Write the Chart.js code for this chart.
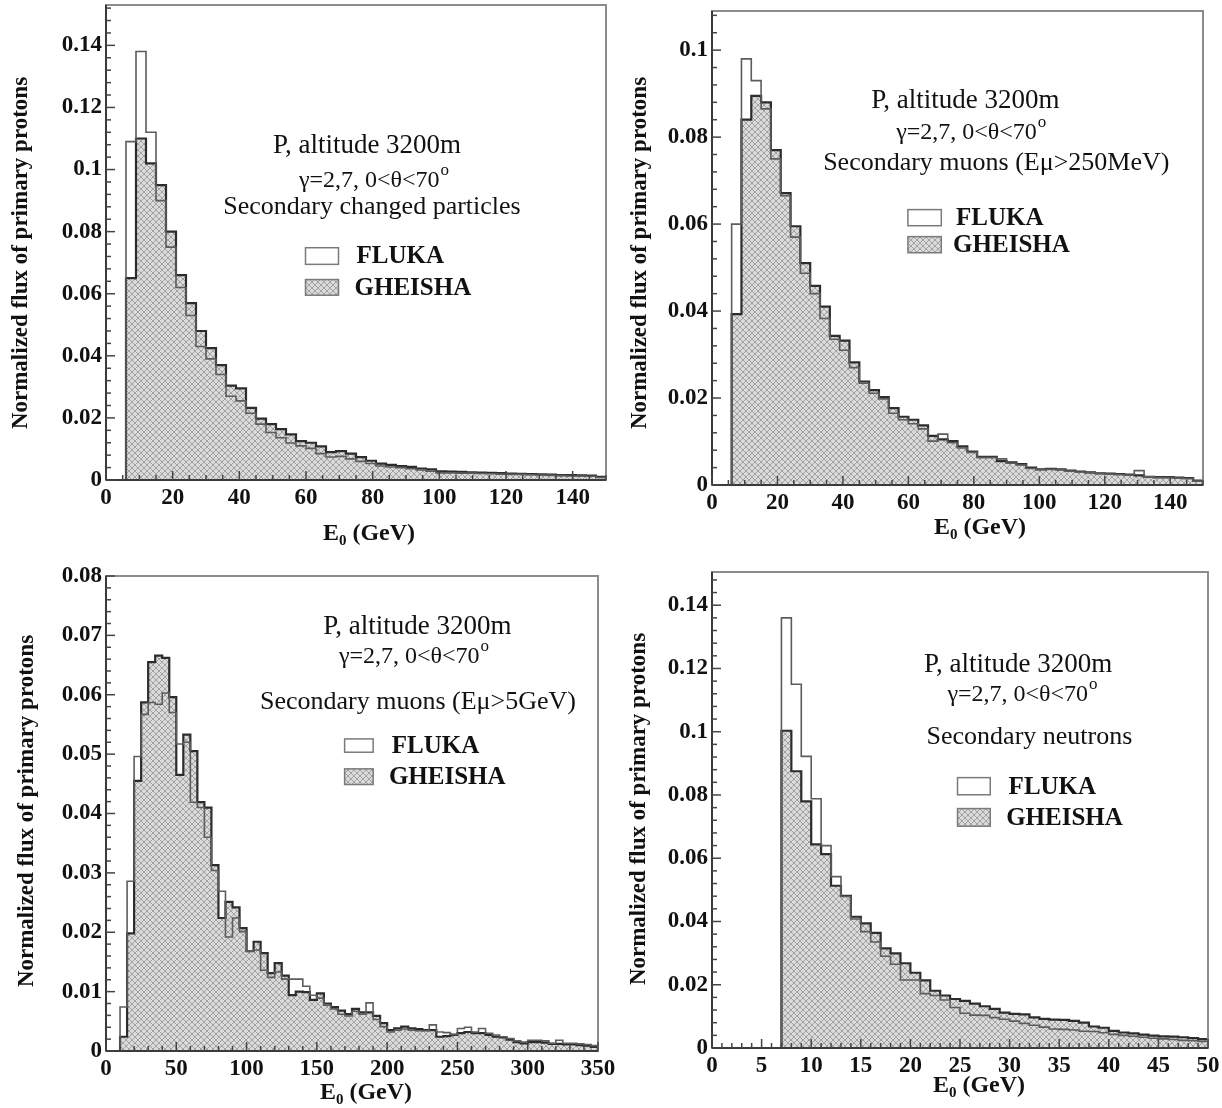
<!DOCTYPE html>
<html>
<head>
<meta charset="utf-8">
<script src="https://cdn.jsdelivr.net/npm/chart.js@4.4.1/dist/chart.umd.min.js"></script>
<style>
html,body{margin:0;padding:0;background:#fff;}
#wrap{position:relative;width:1222px;height:1108px;overflow:hidden;background:#fff;}
canvas{position:absolute;}
</style>
</head>
<body>
<div id="wrap">
<canvas id="c1" width="620" height="556" style="left:0;top:0"></canvas>
<canvas id="c2" width="611" height="556" style="left:611px;top:0"></canvas>
<canvas id="c3" width="620" height="554" style="left:0;top:554px"></canvas>
<canvas id="c4" width="611" height="554" style="left:611px;top:554px"></canvas>
</div>
<script>
// ---------------- DATA ----------------
// Panel 1: secondary charged particles, 3 GeV bins from 0 to 150
const p1Fluka = [0, 0, 0.109, 0.138, 0.112, 0.090, 0.075, 0.062, 0.053, 0.043,
  0.039, 0.034, 0.027, 0.0255, 0.0215, 0.018, 0.0153, 0.0136, 0.0119, 0.011,
  0.0102, 0.0085, 0.0074, 0.0076, 0.0068, 0.006, 0.0053, 0.0045, 0.0042, 0.004,
  0.0036, 0.0032, 0.0028, 0.0023, 0.0023, 0.0022, 0.0022, 0.0021, 0.0020, 0.0019,
  0.0018, 0.0018, 0.0017, 0.0016, 0.0015, 0.0014, 0.0013, 0.0013, 0.0012, 0.0008];
const p1Gheisha = [0, 0, 0.065, 0.110, 0.102, 0.095, 0.080, 0.066, 0.057, 0.048,
  0.0425, 0.037, 0.0304, 0.0295, 0.0232, 0.0198, 0.018, 0.0164, 0.0147, 0.0125,
  0.012, 0.0108, 0.009, 0.0093, 0.0085, 0.0074, 0.0062, 0.0053, 0.0049, 0.0045,
  0.0042, 0.0037, 0.0034, 0.0028, 0.0027, 0.0026, 0.0025, 0.0024, 0.0023, 0.0022,
  0.0021, 0.0020, 0.0019, 0.0018, 0.0017, 0.0016, 0.0016, 0.0015, 0.0014, 0.0010];
const p1XTicks = [0, 20, 40, 60, 80, 100, 120, 140];
const p1YTicks = [0, 0.02, 0.04, 0.06, 0.08, 0.1, 0.12, 0.14];
const p1Notes = ['P, altitude 3200m', 'γ=2,7, 0<θ<70', 'Secondary changed particles'];

// Panel 2: secondary muons (Eμ>250MeV), 3 GeV bins from 0 to 150
const p2Fluka = [0, 0, 0.060, 0.098, 0.093, 0.0865, 0.075, 0.0665, 0.057, 0.0487,
  0.044, 0.0383, 0.0335, 0.031, 0.027, 0.0234, 0.0211, 0.0198, 0.0165, 0.015,
  0.0141, 0.0129, 0.0101, 0.0117, 0.0097, 0.0085, 0.0075, 0.0063, 0.0063, 0.006,
  0.005, 0.0046, 0.0038, 0.0036, 0.0036, 0.0035, 0.0032, 0.0030, 0.0028, 0.0026,
  0.0025, 0.0024, 0.0023, 0.0033, 0.0019, 0.0017, 0.0017, 0.0016, 0.0015, 0.0009];
const p2Gheisha = [0, 0, 0.0393, 0.084, 0.0895, 0.088, 0.077, 0.0671, 0.0595, 0.051,
  0.0458, 0.041, 0.0343, 0.0332, 0.0282, 0.0238, 0.0218, 0.0202, 0.0177, 0.0157,
  0.015, 0.0137, 0.0113, 0.0105, 0.0101, 0.0089, 0.0077, 0.0065, 0.0065, 0.0055,
  0.0052, 0.0048, 0.004, 0.0036, 0.0037, 0.0036, 0.0033, 0.0031, 0.0029, 0.0027,
  0.0026, 0.0025, 0.0024, 0.0022, 0.0019, 0.0018, 0.0018, 0.0017, 0.0016, 0.0010];
const p2XTicks = [0, 20, 40, 60, 80, 100, 120, 140];
const p2YTicks = [0, 0.02, 0.04, 0.06, 0.08, 0.1];
const p2Notes = ['P, altitude 3200m', 'γ=2,7, 0<θ<70', 'Secondary muons (Eμ>250MeV)'];

// Panel 3: secondary muons (Eμ>5GeV), 5 GeV bins from 0 to 350
const p3Fluka = [0, 0, 0.0074, 0.0286, 0.0496, 0.0567, 0.0587, 0.0584, 0.0603, 0.057,
  0.0517, 0.052, 0.0419, 0.041, 0.036, 0.0304, 0.0269, 0.0192, 0.0224, 0.0201,
  0.0168, 0.017, 0.0136, 0.0124, 0.0133, 0.0121, 0.0121, 0.0121, 0.0109, 0.0094,
  0.0089, 0.0077, 0.0071, 0.0062, 0.0059, 0.0067, 0.0062, 0.0081, 0.0053, 0.0041,
  0.0032, 0.0035, 0.0037, 0.0035, 0.0034, 0.0034, 0.0044, 0.0032, 0.0031, 0.0028,
  0.0038, 0.004, 0.0032, 0.0038, 0.003, 0.0027, 0.0024, 0.0021, 0.0017, 0.0015,
  0.0018, 0.0018, 0.0017, 0.0013, 0.0018, 0.0013, 0.0013, 0.0012, 0.0011, 0.0009];
const p3Gheisha = [0, 0, 0.0024, 0.0198, 0.0455, 0.0587, 0.0655, 0.0666, 0.0662, 0.0596,
  0.0465, 0.0533, 0.0505, 0.0419, 0.041, 0.0313, 0.0224, 0.0251, 0.0242, 0.0207,
  0.0168, 0.0184, 0.0165, 0.0131, 0.0148, 0.0127, 0.0094, 0.010, 0.0099, 0.0086,
  0.0097, 0.008, 0.0074, 0.0068, 0.0062, 0.0071, 0.0065, 0.0065, 0.0059, 0.0047,
  0.0035, 0.0038, 0.0041, 0.0038, 0.0037, 0.0035, 0.0035, 0.0024, 0.0025, 0.0027,
  0.003, 0.0032, 0.003, 0.003, 0.0027, 0.0024, 0.0023, 0.0019, 0.0015, 0.0013,
  0.0015, 0.0015, 0.0014, 0.0012, 0.0012, 0.0011, 0.0011, 0.001, 0.0009, 0.0007];
const p3XTicks = [0, 50, 100, 150, 200, 250, 300, 350];
const p3YTicks = [0, 0.01, 0.02, 0.03, 0.04, 0.05, 0.06, 0.07, 0.08];
const p3Notes = ['P, altitude 3200m', 'γ=2,7, 0<θ<70', 'Secondary muons (Eμ>5GeV)'];

// Panel 4: secondary neutrons, 1 GeV bins from 0 to 50
const p4Fluka = [0, 0, 0, 0, 0, 0, 0, 0.136, 0.115, 0.0922,
  0.0788, 0.064, 0.0542, 0.0479, 0.0408, 0.0368, 0.0335, 0.029, 0.0265, 0.0215,
  0.0215, 0.0172, 0.0166, 0.0152, 0.0128, 0.011, 0.0104, 0.0103, 0.0096, 0.0091,
  0.0085, 0.0078, 0.0072, 0.0066, 0.006, 0.0059, 0.0057, 0.0053, 0.0052, 0.0048,
  0.0043, 0.004, 0.0037, 0.0034, 0.0031, 0.0029, 0.0027, 0.0024, 0.0023, 0.0021];
const p4Gheisha = [0, 0, 0, 0, 0, 0, 0, 0.1003, 0.0875, 0.078,
  0.0644, 0.0613, 0.0513, 0.0481, 0.0415, 0.0394, 0.0364, 0.0315, 0.0299, 0.0268,
  0.0238, 0.0214, 0.0181, 0.0166, 0.0155, 0.0149, 0.014, 0.0132, 0.0124, 0.0112,
  0.0108, 0.0106, 0.0097, 0.0092, 0.009, 0.0089, 0.0086, 0.008, 0.0068, 0.0064,
  0.0054, 0.0049, 0.0046, 0.0042, 0.0039, 0.0037, 0.0036, 0.0034, 0.0031, 0.0028];
const p4XTicks = [0, 5, 10, 15, 20, 25, 30, 35, 40, 45, 50];
const p4YTicks = [0, 0.02, 0.04, 0.06, 0.08, 0.1, 0.12, 0.14];
const p4Notes = ['P, altitude 3200m', 'γ=2,7, 0<θ<70', 'Secondary neutrons'];

const seriesNames = ['FLUKA', 'GHEISHA'];
const yTitleText = 'Normalized flux of primary protons';

// ---------------- STYLE / LAYOUT ----------------
const SERIF = "'Liberation Serif','DejaVu Serif',serif";
const noteFonts = ['27px', '24px', '26px'];

function makeHatch() {
  const c = document.createElement('canvas');
  c.width = 6; c.height = 6;
  const g = c.getContext('2d');
  g.fillStyle = '#dadada'; g.fillRect(0, 0, 6, 6);
  g.fillStyle = '#a2a2a2';
  for (let i = 0; i < 6; i++) { g.fillRect(i, i, 1, 1); g.fillRect(i, 5 - i, 1, 1); }
  return g.createPattern(c, 'repeat');
}

function histPoints(start, width, vals) {
  const pts = vals.map((v, i) => ({ x: start + i * width, y: v }));
  pts.push({ x: start + vals.length * width, y: vals[vals.length - 1] });
  return pts;
}

const deco = {
  id: 'deco',
  afterDraw(chart, args, o) {
    const { ctx, chartArea: a, scales: { x, y } } = chart;
    const w = a.right - a.left, h = a.bottom - a.top;
    const ln = (x1, y1, x2, y2) => { ctx.beginPath(); ctx.moveTo(x1, y1); ctx.lineTo(x2, y2); ctx.stroke(); };
    ctx.save();
    // frame
    ctx.strokeStyle = '#8c8c8c'; ctx.lineWidth = 2;
    ctx.strokeRect(a.left, a.top, w, h);
    ctx.strokeStyle = '#3a3a3a'; ctx.lineWidth = 2;
    ln(a.left, a.top, a.left, a.bottom);
    ln(a.left, a.bottom, a.right, a.bottom);
    // inner ticks
    ctx.lineWidth = 1.5; ctx.strokeStyle = '#444';
    const nx = Math.round(x.max / o.xMinor);
    for (let k = 0; k <= nx; k++) {
      const v = k * o.xMinor; const r = v / o.xMajor;
      const major = Math.abs(r - Math.round(r)) < 1e-6;
      const px = x.getPixelForValue(v);
      ln(px, a.bottom, px, a.bottom - (major ? 9 : 5));
    }
    const ny = Math.floor(y.max / o.yMinor + 1e-6);
    for (let k = 0; k <= ny; k++) {
      const v = k * o.yMinor; const r = v / o.yMajor;
      const major = Math.abs(r - Math.round(r)) < 1e-6;
      const py = y.getPixelForValue(v);
      ln(a.left, py, a.left + (major ? 9 : 5), py);
    }
    ctx.fillStyle = '#111';
    // annotation lines
    ctx.textBaseline = 'middle';
    o.notes.forEach((t, i) => {
      const cx = a.left + o.notePos[i][0] * w, cy = a.top + o.notePos[i][1] * h;
      ctx.font = noteFonts[i] + ' ' + SERIF;
      if (i === 1) {
        const mw = ctx.measureText(t).width;
        ctx.font = '17px ' + SERIF;
        const sw = ctx.measureText('o').width;
        const x0 = cx - (mw + sw) / 2;
        ctx.textAlign = 'left';
        ctx.font = noteFonts[i] + ' ' + SERIF;
        ctx.fillText(t, x0, cy);
        ctx.font = '17px ' + SERIF;
        ctx.fillText('o', x0 + mw + 1, cy - 10);
      } else {
        ctx.textAlign = 'center';
        ctx.fillText(t, cx, cy);
      }
    });
    // legend
    const L = o.legend;
    const bx0 = a.left + L.box[0] * w, bx1 = a.left + L.box[1] * w;
    L.rows.forEach((r, i) => {
      const by0 = a.top + r[0] * h, by1 = a.top + r[1] * h;
      ctx.fillStyle = i === 1 ? chart.$hatch : '#fff';
      ctx.fillRect(bx0, by0, bx1 - bx0, by1 - by0);
      ctx.strokeStyle = '#7a7a7a'; ctx.lineWidth = 1.5;
      ctx.strokeRect(bx0, by0, bx1 - bx0, by1 - by0);
      ctx.fillStyle = '#111';
      ctx.font = 'bold 25px ' + SERIF;
      ctx.textAlign = 'left';
      ctx.fillText(seriesNames[i], a.left + L.text[i] * w, (by0 + by1) / 2 + 1);
    });
    // y title
    ctx.save();
    ctx.translate(o.yTitle[0], o.yTitle[1]);
    ctx.rotate(-Math.PI / 2);
    ctx.font = 'bold 23px ' + SERIF;
    ctx.textAlign = 'center';
    ctx.fillStyle = '#111';
    ctx.fillText(yTitleText, 0, 0);
    ctx.restore();
    // x title: E0 (GeV)
    ctx.textAlign = 'left';
    ctx.font = 'bold 24px ' + SERIF;
    const wE = ctx.measureText('E').width;
    const wR = ctx.measureText(' (GeV)').width;
    ctx.font = 'bold 15px ' + SERIF;
    const wS = ctx.measureText('0').width;
    const tx = o.xTitle[0] - (wE + wS + wR) / 2; const ty = o.xTitle[1];
    ctx.font = 'bold 24px ' + SERIF;
    ctx.fillText('E', tx, ty);
    ctx.font = 'bold 15px ' + SERIF;
    ctx.fillText('0', tx + wE, ty + 7);
    ctx.font = 'bold 24px ' + SERIF;
    ctx.fillText(' (GeV)', tx + wE + wS, ty);
    ctx.restore();
  }
};

const panels = [
  { id: 'c1', start: 0, width: 3, fluka: p1Fluka, gheisha: p1Gheisha, xMax: 150, yMax: 0.153,
    xTicks: p1XTicks, yTicks: p1YTicks, xMajor: 20, xMinor: 5, yMajor: 0.02, yMinor: 0.004,
    area: { left: 106, right: 606, top: 5, bottom: 480 }, W: 620, H: 556,
    yTitle: [21, 253], xTitle: [369, 534], notes: p1Notes,
    notePos: [[0.522, 0.296], [0.535, 0.370], [0.532, 0.426]],
    legend: { box: [0.399, 0.465], rows: [[0.511, 0.546], [0.578, 0.611]], text: [0.501, 0.497] } },
  { id: 'c2', start: 0, width: 3, fluka: p2Fluka, gheisha: p2Gheisha, xMax: 150, yMax: 0.109,
    xTicks: p2XTicks, yTicks: p2YTicks, xMajor: 20, xMinor: 5, yMajor: 0.02, yMinor: 0.004,
    area: { left: 101, right: 592, top: 11, bottom: 485 }, W: 611, H: 556,
    yTitle: [29, 253], xTitle: [369, 528], notes: p2Notes,
    notePos: [[0.516, 0.189], [0.527, 0.256], [0.579, 0.320]],
    legend: { box: [0.399, 0.467], rows: [[0.419, 0.453], [0.476, 0.510]], text: [0.497, 0.491] } },
  { id: 'c3', start: 0, width: 5, fluka: p3Fluka, gheisha: p3Gheisha, xMax: 350, yMax: 0.08,
    xTicks: p3XTicks, yTicks: p3YTicks, xMajor: 50, xMinor: 10, yMajor: 0.01, yMinor: 0.002,
    area: { left: 106, right: 598, top: 22, bottom: 497 }, W: 620, H: 554,
    yTitle: [27, 257], xTitle: [366, 539], notes: p3Notes,
    notePos: [[0.633, 0.107], [0.625, 0.170], [0.634, 0.266]],
    legend: { box: [0.485, 0.543], rows: [[0.343, 0.371], [0.406, 0.439]], text: [0.581, 0.575] } },
  { id: 'c4', start: 0, width: 1, fluka: p4Fluka, gheisha: p4Gheisha, xMax: 50, yMax: 0.1505,
    xTicks: p4XTicks, yTicks: p4YTicks, xMajor: 5, xMinor: 1, yMajor: 0.02, yMinor: 0.004,
    area: { left: 101, right: 597, top: 18, bottom: 494 }, W: 611, H: 554,
    yTitle: [28, 255], xTitle: [368, 532], notes: p4Notes,
    notePos: [[0.617, 0.195], [0.625, 0.258], [0.640, 0.348]],
    legend: { box: [0.495, 0.561], rows: [[0.432, 0.468], [0.497, 0.534]], text: [0.598, 0.593] } }
];

const tickFont = { family: SERIF, size: 23, weight: 'bold' };

panels.forEach(p => {
  const canvas = document.getElementById(p.id);
  const hatch = makeHatch();
  const chart = new Chart(canvas, {
    type: 'line',
    data: {
      datasets: [
        { label: seriesNames[0], data: histPoints(p.start, p.width, p.fluka), stepped: true,
          borderColor: '#5c5c5c', borderWidth: 1.6, pointRadius: 0, fill: false },
        { label: seriesNames[1], data: histPoints(p.start, p.width, p.gheisha), stepped: true,
          borderColor: '#2c2c2c', borderWidth: 2.2, pointRadius: 0, fill: 'origin', backgroundColor: hatch }
      ]
    },
    options: {
      responsive: false, animation: false, events: [],
      layout: { padding: { left: 0, top: p.area.top, right: p.W - p.area.right, bottom: 0 } },
      plugins: {
        legend: { display: false }, tooltip: { enabled: false },
        deco: p
      },
      scales: {
        x: {
          type: 'linear', min: 0, max: p.xMax,
          grid: { display: false, drawTicks: false }, border: { display: false },
          ticks: { font: tickFont, color: '#111', padding: 4, maxRotation: 0, autoSkip: false,
                   callback: v => String(v) },
          afterBuildTicks: s => { s.ticks = p.xTicks.map(v => ({ value: v })); },
          afterFit: s => { s.height = p.H - p.area.bottom; s.paddingLeft = 0; s.paddingRight = 0; }
        },
        y: {
          type: 'linear', min: 0, max: p.yMax,
          grid: { display: false, drawTicks: false }, border: { display: false },
          ticks: { font: tickFont, color: '#111', padding: 4, autoSkip: false,
                   callback: v => String(+(+v).toFixed(4)) },
          afterBuildTicks: s => { s.ticks = p.yTicks.map(v => ({ value: v })); },
          afterFit: s => { s.width = p.area.left; s.paddingTop = 0; s.paddingBottom = 0; }
        }
      }
    },
    plugins: [deco]
  });
  chart.$hatch = hatch;
  chart.draw();
});
</script>
</body>
</html>
